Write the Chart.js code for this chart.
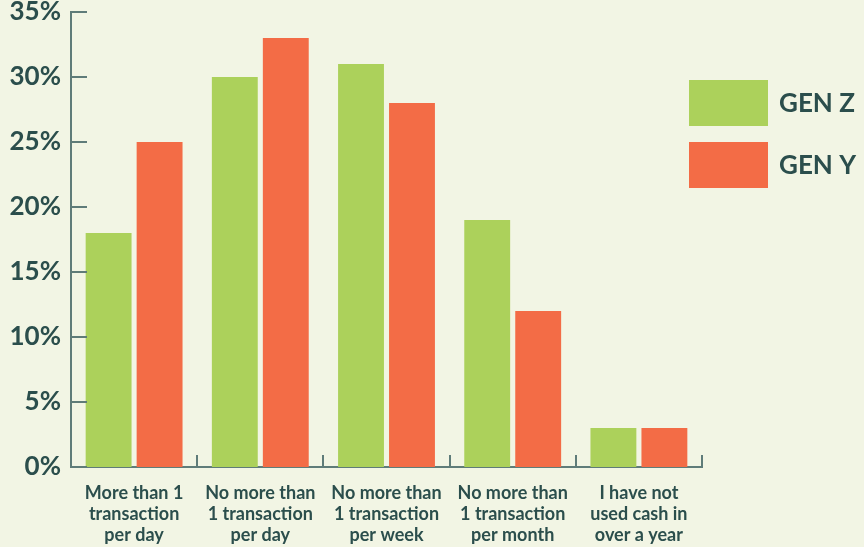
<!DOCTYPE html>
<html>
<head>
<meta charset="utf-8">
<script src="https://cdn.jsdelivr.net/npm/chart.js@4"></script>
<style>
  html, body { margin: 0; padding: 0; background: #f2f5e4; }
  #wrap { width: 864px; height: 547px; }
</style>
</head>
<body>
<div id="wrap"><canvas id="c" width="864" height="547"></canvas></div>
<script>
const categories = [
  ['More than 1', 'transaction', 'per day'],
  ['No more than', '1 transaction', 'per day'],
  ['No more than', '1 transaction', 'per week'],
  ['No more than', '1 transaction', 'per month'],
  ['I have not', 'used cash in', 'over a year']
];
const seriesNames = ['GEN Z', 'GEN Y'];
const genZ = [18, 30, 31, 19, 3];
const genY = [25, 33, 28, 12, 3];
const yTicks = [0, 5, 10, 15, 20, 25, 30, 35];

const TEXT = '#2b4e4c';
const AXIS = '#5f7c79';
const GREEN = '#acd15b';
const RED = '#f36c46';
const FONT = 'Lato';

// Inward tick marks on both axes plus a box legend on the right
const axisMarks = {
  id: 'axisMarks',
  afterDraw(chart) {
    const ctx = chart.ctx;
    const y = chart.scales.y;
    const area = chart.chartArea;
    ctx.save();
    ctx.strokeStyle = AXIS;
    ctx.lineWidth = 2;
    yTicks.forEach(v => {
      const py = Math.round(y.getPixelForValue(v));
      ctx.beginPath();
      ctx.moveTo(area.left, py);
      ctx.lineTo(area.left + 16, py);
      ctx.stroke();
    });
    const n = categories.length;
    const w = (area.right - area.left) / n;
    for (let i = 0; i <= n; i++) {
      const px = Math.round(area.left + i * w);
      ctx.beginPath();
      ctx.moveTo(px, area.bottom);
      ctx.lineTo(px, area.bottom - 12);
      ctx.stroke();
    }
    // legend
    const boxX = 689, boxW = 79, boxH = 46;
    const tops = [80, 142];
    chart.data.datasets.forEach((ds, i) => {
      ctx.fillStyle = ds.backgroundColor;
      ctx.fillRect(boxX, tops[i], boxW, boxH);
      ctx.fillStyle = TEXT;
      ctx.font = 'bold 26px ' + FONT;
      ctx.textBaseline = 'middle';
      ctx.textAlign = 'left';
      ctx.fillText(ds.label, 779, tops[i] + boxH / 2 + 1);
    });
    ctx.restore();
  }
};

new Chart(document.getElementById('c'), {
  type: 'bar',
  data: {
    labels: categories,
    datasets: [
      { label: seriesNames[0], data: genZ, backgroundColor: GREEN },
      { label: seriesNames[1], data: genY, backgroundColor: RED }
    ]
  },
  options: {
    responsive: false,
    animation: false,
    devicePixelRatio: 1,
    layout: { padding: { top: 12, right: 162, left: 0, bottom: 0 } },
    datasets: { bar: { categoryPercentage: 0.808, barPercentage: 0.9 } },
    plugins: { legend: { display: false }, tooltip: { enabled: false } },
    scales: {
      x: {
        grid: { display: false, drawTicks: false },
        border: { display: true, color: AXIS, width: 2 },
        ticks: {
          color: TEXT,
          font: { family: FONT, size: 18, weight: 'bold', lineHeight: '21px' },
          padding: 16,
          maxRotation: 0,
          autoSkip: false
        },
        afterFit(s) { s.height = 80; }
      },
      y: {
        min: 0, max: 35,
        grid: { display: false, drawTicks: false },
        border: { display: true, color: AXIS, width: 2 },
        ticks: {
          stepSize: 5,
          color: TEXT,
          font: { family: FONT, size: 26, weight: 'bold' },
          padding: 10,
          callback: v => v + '%'
        },
        afterFit(s) { s.width = 71; s.paddingTop = 0; s.paddingBottom = 0; }
      }
    }
  },
  plugins: [axisMarks]
});
</script>
</body>
</html>
